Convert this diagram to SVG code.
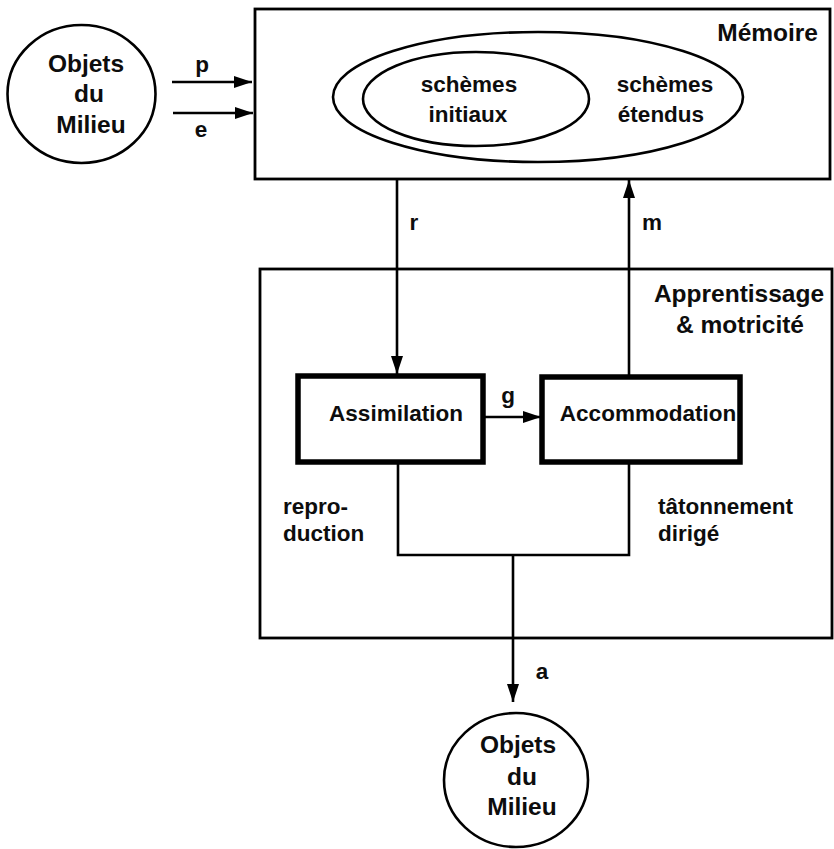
<svg xmlns="http://www.w3.org/2000/svg" width="834" height="849" viewBox="0 0 834 849">
  <style>
    .ln { fill: none; stroke: #000; stroke-width: 2.6; }
    .thick { fill: #fff; stroke: #000; stroke-width: 5.5; }
    .frame { fill: none; stroke: #000; stroke-width: 2.8; }
    text { font-family: "Liberation Sans", Arial, sans-serif; font-weight: bold; fill: #0d0d0d; }
    .t { font-size: 22.5px; }
    .big { font-size: 24.5px; }
    .c { text-anchor: middle; }
    .r { text-anchor: end; }
  </style>
  <defs>
    <marker id="arr" viewBox="0 0 18 12" refX="18" refY="6" markerWidth="18" markerHeight="12" markerUnits="userSpaceOnUse" orient="auto">
      <path d="M0,0 L18,6 L0,12 Z" fill="#000"/>
    </marker>
  </defs>
  <rect width="834" height="849" fill="#fff"/>

  <!-- Mémoire -->
  <g id="memoire">
    <rect class="frame" x="255" y="9" width="575" height="170"/>
    <text class="big r" x="818" y="41">Mémoire</text>
    <ellipse class="ln" cx="538" cy="97" rx="205" ry="65"/>
    <ellipse class="ln" cx="476" cy="99" rx="113" ry="47"/>
    <text class="t c" x="469" y="92">schèmes</text>
    <text class="t c" x="468" y="122">initiaux</text>
    <text class="t c" x="665" y="92">schèmes</text>
    <text class="t c" x="661" y="122">étendus</text>
  </g>

  <!-- Objets du Milieu (source) -->
  <g id="objets-source">
    <ellipse class="ln" cx="81.5" cy="94" rx="74" ry="69"/>
    <text class="big c" x="86" y="72">Objets</text>
    <text class="big c" x="89" y="102">du</text>
    <text class="big c" x="91" y="133">Milieu</text>
  </g>

  <!-- Apprentissage & motricité -->
  <g id="apprentissage">
    <rect class="frame" x="260" y="269" width="572" height="369"/>
    <text class="big c" x="739" y="302">Apprentissage</text>
    <text class="big c" x="740" y="333">&amp; motricité</text>
    <text class="t" x="283" y="514">repro-</text>
    <text class="t" x="283" y="541">duction</text>
    <text class="t" x="658" y="514">tâtonnement</text>
    <text class="t" x="658" y="541">dirigé</text>
  </g>

  <g id="assimilation">
    <rect class="thick" x="298" y="376" width="185" height="86"/>
    <text class="t c" x="396" y="421">Assimilation</text>
  </g>

  <g id="accommodation">
    <rect class="thick" x="542" y="377" width="198" height="85"/>
    <text class="t c" x="648" y="421">Accommodation</text>
  </g>

  <!-- Objets du Milieu (cible) -->
  <g id="objets-cible">
    <ellipse class="ln" cx="516" cy="780" rx="72" ry="67"/>
    <text class="big c" x="518" y="753">Objets</text>
    <text class="big c" x="522" y="785">du</text>
    <text class="big c" x="522" y="815">Milieu</text>
  </g>

  <!-- connecteurs -->
  <g id="connectors">
    <line class="ln" x1="172" y1="82" x2="252" y2="82" marker-end="url(#arr)"/>
    <line class="ln" x1="173" y1="113" x2="253" y2="113" marker-end="url(#arr)"/>
    <text class="t c" x="202" y="72">p</text>
    <text class="t c" x="201" y="137">e</text>

    <line class="ln" x1="397" y1="179" x2="397" y2="374" marker-end="url(#arr)"/>
    <text class="t c" x="414" y="230">r</text>

    <line class="ln" x1="629" y1="375" x2="629" y2="180" marker-end="url(#arr)"/>
    <text class="t c" x="652" y="230">m</text>

    <line class="ln" x1="484" y1="417" x2="541" y2="417" marker-end="url(#arr)"/>
    <text class="t c" x="508" y="403">g</text>

    <polyline class="ln" points="398,464 398,555 629,555 629,464"/>
    <line class="ln" x1="513" y1="555" x2="513" y2="702" marker-end="url(#arr)"/>
    <text class="t c" x="542" y="679">a</text>
  </g>
</svg>
